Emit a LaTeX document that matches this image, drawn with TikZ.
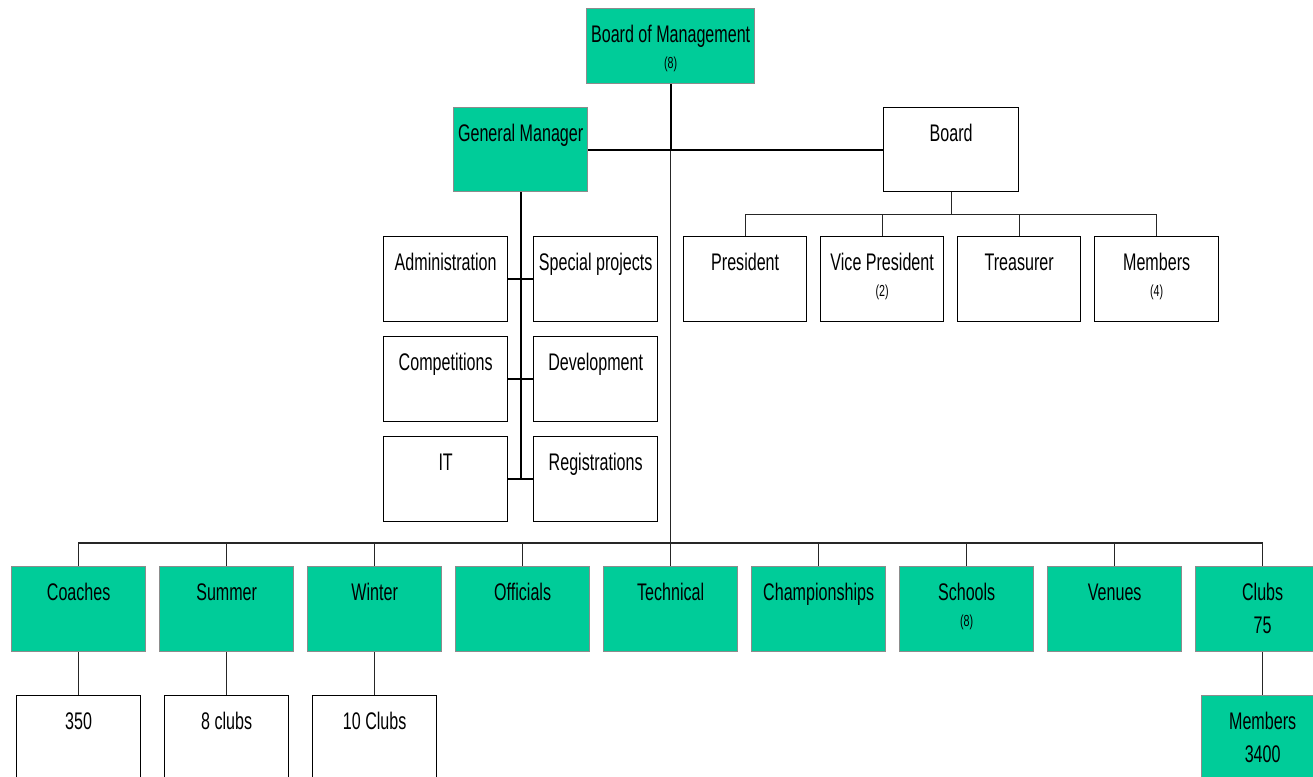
\documentclass[tikz,border=0pt]{standalone}
\usepackage{fontspec}
\setmainfont{Liberation Sans}[FakeStretch=0.67]
\usetikzlibrary{calc}
\definecolor{boxgreen}{RGB}{0,204,153}
\definecolor{boxedge}{RGB}{140,140,140}
\newcommand\obox[7]{%
  \node[#2, minimum width=#5pt, minimum height=#6pt, anchor=north west] (#1) at (#3,#4) {};
  \node[big, anchor=base] (#1t) at ($(#1.north)+(0,34)$) {#7};}
\begin{document}
\begin{tikzpicture}[x=1pt,y=-1pt,
  gbox/.style={draw=boxedge, fill=boxgreen, line width=1.3pt, inner sep=0pt},
  wbox/.style={draw=black, fill=white, line width=1.3pt, inner sep=0pt},
  big/.style={font=\fontsize{24}{28}\selectfont, inner sep=0pt},
  small/.style={font=\fontsize{16}{18}\selectfont, inner sep=0pt},
  thk/.style={line width=2pt, draw=black},
  thn/.style={line width=1.2pt, draw=black!85}]
\useasboundingbox (0,0) rectangle (1313,776);
\begin{scope}
\clip (0,0) rectangle (1313,776);
% top level
\obox{bom}{gbox}{586}{8}{168}{75}{Board of Management}
\node[small, anchor=base] (bomn) at ($(bom.north)+(0,60)$) {(8)};
\obox{gm}{gbox}{453}{107}{134}{84}{General Manager}
\obox{board}{wbox}{883}{107}{135}{84}{Board}
\coordinate (j1) at (bom.south |- gm.east);
\coordinate (busb) at ($(bom.south |- 0,543)$);
\draw[thn] (j1) -- (busb);
\draw[thk] (bom.south) -- (j1);
\draw[thk] (gm.east) -- (board.west);
% board members
\obox{pres}{wbox}{683}{236}{123}{85}{President}
\obox{vp}{wbox}{820}{236}{123}{85}{Vice President}
\node[small, anchor=base] (vpn) at ($(vp.north)+(0,60)$) {(2)};
\obox{treas}{wbox}{957}{236}{123}{85}{Treasurer}
\obox{memb}{wbox}{1094}{236}{124}{85}{Members}
\node[small, anchor=base] (membn) at ($(memb.north)+(0,60)$) {(4)};
\draw[thn] (board.south) -- ($(board.south)+(0,22)$) coordinate (bj);
\draw[thn] (pres.north) -- (pres.north |- bj) -- (memb.north |- bj) -- (memb.north);
\draw[thn] (vp.north) -- (vp.north |- bj);
\draw[thn] (treas.north) -- (treas.north |- bj);
% GM departments
\obox{adm}{wbox}{383}{236}{124}{85}{Administration}
\obox{spp}{wbox}{533}{236}{124}{85}{Special projects}
\obox{comp}{wbox}{383}{336}{124}{85}{Competitions}
\obox{dev}{wbox}{533}{336}{124}{85}{Development}
\obox{it}{wbox}{383}{436}{124}{85}{IT}
\obox{reg}{wbox}{533}{436}{124}{85}{Registrations}
\draw[thk] (gm.south) -- (gm.south |- it.east);
\draw[thk] (adm.east) -- (spp.west);
\draw[thk] (comp.east) -- (dev.west);
\draw[thk] (it.east) -- (reg.west);
% bottom row
\obox{coach}{gbox}{11}{566}{134}{85}{Coaches}
\obox{summ}{gbox}{159}{566}{134}{85}{Summer}
\obox{wint}{gbox}{307}{566}{134}{85}{Winter}
\obox{offi}{gbox}{455}{566}{134}{85}{Officials}
\obox{tech}{gbox}{603}{566}{134}{85}{Technical}
\obox{champ}{gbox}{751}{566}{134}{85}{Championships}
\obox{school}{gbox}{899}{566}{134}{85}{Schools}
\node[small, anchor=base] (schooln) at ($(school.north)+(0,60)$) {(8)};
\obox{venue}{gbox}{1047}{566}{134}{85}{Venues}
\obox{clubs}{gbox}{1195}{566}{134}{85}{Clubs}
\node[big, anchor=base] (clubsn) at ($(clubs.north)+(0,67)$) {75};
\draw[thn] (coach.north) -- (coach.north |- busb) -- (clubs.north |- busb) -- (clubs.north);
\foreach \n in {summ,wint,offi,tech,champ,school,venue}
  \draw[thn] (\n.north) -- (\n.north |- busb);
% third level
\obox{c350}{wbox}{16}{695}{124}{100}{350}
\obox{c8}{wbox}{164}{695}{124}{100}{8 clubs}
\obox{c10}{wbox}{312}{695}{124}{100}{10 Clubs}
\obox{cmem}{gbox}{1201}{695}{122}{100}{Members}
\node[big, anchor=base] (cmemn) at ($(cmem.north)+(0,67)$) {3400};
\draw[thn] (coach.south) -- (coach.south |- c350.north);
\draw[thn] (summ.south) -- (summ.south |- c8.north);
\draw[thn] (wint.south) -- (wint.south |- c10.north);
\draw[thn] (clubs.south) -- (clubs.south |- cmem.north);
\end{scope}
\end{tikzpicture}
\end{document}
